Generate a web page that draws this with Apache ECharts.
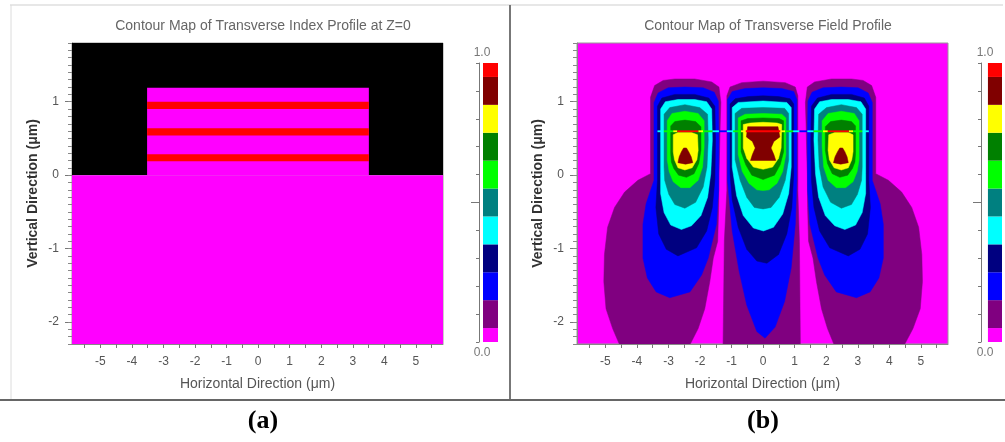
<!DOCTYPE html>
<html><head><meta charset="utf-8">
<script src="https://cdn.jsdelivr.net/npm/echarts@6/dist/echarts.min.js"></script>
<style>html,body{margin:0;padding:0;background:#fff}#c{width:1005px;height:442px}</style>
</head><body><div id="c"></div>
<script>
// ---------------- data ----------------
const panelTitles = ['Contour Map of Transverse Index Profile at Z=0', 'Contour Map of Transverse Field Profile'];
const panelLetters = ['(a)', '(b)'];
const xAxisName = 'Horizontal Direction (\u03bcm)';
const yAxisName = 'Vertical Direction (\u03bcm)';
const xRange = [-5.9, 5.86];
const yRange = [-2.3, 1.8];
const xLabelValues = [-5, -4, -3, -2, -1, 0, 1, 2, 3, 4, 5];
const yLabelValues = [-2, -1, 0, 1];
const colorbarLabels = ['1.0', '0.0'];
const colorbarTickValues = [0, 0.1, 0.2, 0.3, 0.4, 0.5, 0.6, 0.7, 0.8, 0.9, 1.0];

// colour bands of the scale (value edges, bottom to top)
const bandEdges = [0, 0.05, 0.15, 0.25, 0.35, 0.45, 0.55, 0.65, 0.75, 0.85, 0.95, 1.0];

// (a) index profile regions: [x0, x1, y0, y1, normalised index]; -1 = air (off scale)
const indexRegions = [
  [-5.9, 5.86, 0, 1.8, -1],
  [-5.9, 5.86, -2.3, 0, 0],
  [-3.52, 3.51, 0, 1.19, 0],
  [-3.52, 3.51, 0.90, 1.00, 1],
  [-3.52, 3.51, 0.54, 0.64, 1],
  [-3.52, 3.51, 0.19, 0.285, 1]
];

// (b) field contour levels and the filled contour outlines (um), one list per lobe
const contourLevels = [0.1, 0.2, 0.3, 0.4, 0.5, 0.6, 0.7, 0.8, 0.9];
const leftLobeContours = [
  [[-3.57,0.02],[-3.57,1.06],[-3.44,1.22],[-3.17,1.29],[-2.80,1.31],[-2.17,1.31],[-1.63,1.27],[-1.40,1.20],[-1.34,0.99],[-1.36,0.71],[-1.38,0.34],[-1.40,0.02],[-1.41,-0.44],[-1.44,-0.90],[-1.58,-1.13],[-1.69,-1.45],[-1.85,-1.82],[-2.06,-2.09],[-2.32,-2.31],[-4.55,-2.31],[-4.77,-2.09],[-4.98,-1.82],[-5.05,-1.45],[-5.03,-1.08],[-4.93,-0.71],[-4.71,-0.44],[-4.39,-0.23],[-3.97,-0.07]],
  [[-3.46,-0.07],[-3.46,0.99],[-3.33,1.12],[-3.01,1.19],[-2.48,1.20],[-1.90,1.19],[-1.55,1.13],[-1.42,1.01],[-1.40,0.48],[-1.41,-0.21],[-1.48,-0.67],[-1.74,-1.13],[-1.95,-1.36],[-2.32,-1.59],[-2.96,-1.67],[-3.39,-1.59],[-3.67,-1.40],[-3.81,-1.13],[-3.81,-0.67],[-3.71,-0.39],[-3.57,-0.21]],
  [[-3.35,-0.07],[-3.35,0.94],[-3.21,1.05],[-2.80,1.10],[-2.17,1.10],[-1.72,1.05],[-1.53,0.94],[-1.51,0.48],[-1.53,-0.07],[-1.61,-0.44],[-1.79,-0.76],[-2.11,-0.99],[-2.70,-1.10],[-3.07,-1.01],[-3.31,-0.80],[-3.40,-0.44]],
  [[-3.25,0.02],[-3.25,0.90],[-3.10,1.00],[-2.70,1.03],[-2.17,1.03],[-1.79,1.00],[-1.63,0.90],[-1.61,0.48],[-1.66,0.02],[-1.76,-0.30],[-1.97,-0.55],[-2.27,-0.69],[-2.59,-0.74],[-2.93,-0.68],[-3.14,-0.51],[-3.25,-0.25]],
  [[-3.14,0.11],[-3.14,0.83],[-2.96,0.92],[-2.48,0.96],[-2.01,0.92],[-1.76,0.83],[-1.74,0.48],[-1.78,0.11],[-1.90,-0.16],[-2.14,-0.37],[-2.48,-0.45],[-2.80,-0.40],[-2.99,-0.26],[-3.12,-0.07]],
  [[-3.04,0.21],[-3.04,0.74],[-2.89,0.84],[-2.48,0.87],[-2.06,0.84],[-1.87,0.74],[-1.87,0.39],[-1.92,0.11],[-2.06,-0.07],[-2.32,-0.17],[-2.61,-0.17],[-2.85,-0.09],[-2.98,0.05]],
  [[-2.93,0.30],[-2.93,0.67],[-2.80,0.73],[-2.48,0.75],[-2.14,0.73],[-1.97,0.66],[-1.97,0.34],[-2.04,0.16],[-2.19,0.02],[-2.43,-0.03],[-2.68,0.00],[-2.83,0.09],[-2.91,0.18]],
  [[-2.85,0.32],[-2.85,0.55],[-2.70,0.58],[-2.27,0.58],[-2.08,0.55],[-2.06,0.34],[-2.10,0.21],[-2.25,0.10],[-2.48,0.07],[-2.70,0.10],[-2.81,0.21]],
  [[-2.70,0.17],[-2.66,0.25],[-2.59,0.32],[-2.52,0.37],[-2.43,0.37],[-2.36,0.32],[-2.28,0.25],[-2.23,0.17],[-2.46,0.15]]
];
const centerLobeContours = [
  [[-1.15,-0.21],[-1.15,1.08],[-1.05,1.20],[-0.68,1.26],[0,1.28],[0.70,1.26],[1.02,1.20],[1.10,1.08],[1.10,-0.21],[1.15,-0.90],[1.18,-2.31],[-1.27,-2.31],[-1.23,-0.90]],
  [[-1.13,-0.07],[-1.13,1.03],[-0.98,1.14],[-0.57,1.18],[0,1.19],[0.59,1.18],[0.97,1.14],[1.07,1.03],[1.07,-0.07],[1.02,-0.67],[0.89,-1.26],[0.68,-1.72],[0.38,-2.07],[0.06,-2.22],[-0.20,-2.13],[-0.52,-1.77],[-0.76,-1.31],[-0.98,-0.76]],
  [[-1.05,0.02],[-1.05,0.97],[-0.89,1.04],[-0.47,1.07],[0,1.08],[0.49,1.07],[0.86,1.04],[0.97,0.97],[0.97,0.02],[0.91,-0.44],[0.75,-0.80],[0.49,-1.08],[0.12,-1.20],[-0.20,-1.17],[-0.52,-1.01],[-0.79,-0.71],[-0.98,-0.34]],
  [[-0.98,0.11],[-0.98,0.92],[-0.79,0.99],[0,1.01],[0.75,0.99],[0.89,0.92],[0.89,0.11],[0.81,-0.25],[0.62,-0.53],[0.33,-0.71],[0.01,-0.76],[-0.31,-0.72],[-0.63,-0.55],[-0.84,-0.28]],
  [[-0.89,0.21],[-0.89,0.84],[-0.68,0.91],[0,0.92],[0.68,0.91],[0.81,0.84],[0.81,0.21],[0.70,-0.07],[0.51,-0.30],[0.25,-0.44],[0,-0.46],[-0.28,-0.44],[-0.52,-0.30],[-0.73,-0.07]],
  [[-0.79,0.28],[-0.79,0.78],[-0.57,0.83],[0,0.84],[0.59,0.83],[0.72,0.78],[0.72,0.28],[0.62,0.05],[0.44,-0.11],[0.19,-0.20],[0,-0.21],[-0.20,-0.20],[-0.45,-0.11],[-0.66,0.05]],
  [[-0.70,0.32],[-0.70,0.74],[-0.49,0.77],[0,0.78],[0.51,0.77],[0.65,0.74],[0.65,0.32],[0.54,0.14],[0.36,0.00],[0,-0.06],[-0.36,0.00],[-0.55,0.14]],
  [[-0.63,0.37],[-0.63,0.69],[-0.41,0.71],[0,0.72],[0.44,0.71],[0.59,0.69],[0.57,0.37],[0.49,0.23],[0.30,0.11],[0,0.08],[-0.31,0.11],[-0.52,0.23]],
  [[-0.49,0.66],[0.47,0.66],[0.53,0.52],[0.34,0.46],[0.25,0.37],[0.34,0.28],[0.40,0.20],[-0.40,0.20],[-0.34,0.28],[-0.25,0.37],[-0.34,0.46],[-0.53,0.52]]
];
const rightLobeContours = [
  [[3.57,0.02],[3.57,1.06],[3.44,1.22],[3.17,1.29],[2.80,1.31],[2.17,1.31],[1.63,1.27],[1.40,1.20],[1.34,0.99],[1.36,0.71],[1.38,0.34],[1.40,0.02],[1.41,-0.44],[1.44,-0.90],[1.58,-1.13],[1.69,-1.45],[1.85,-1.82],[2.04,-2.09],[2.25,-2.31],[4.48,-2.31],[4.75,-2.09],[4.98,-1.82],[5.05,-1.45],[5.03,-1.08],[4.93,-0.71],[4.71,-0.44],[4.39,-0.23],[3.97,-0.07]],
  [[3.46,-0.07],[3.46,0.99],[3.33,1.12],[3.01,1.19],[2.48,1.20],[1.90,1.19],[1.55,1.13],[1.42,1.01],[1.40,0.48],[1.41,-0.21],[1.48,-0.67],[1.74,-1.13],[1.95,-1.36],[2.32,-1.59],[2.96,-1.67],[3.39,-1.59],[3.67,-1.40],[3.81,-1.13],[3.81,-0.67],[3.71,-0.39],[3.57,-0.21]],
  [[3.35,-0.07],[3.35,0.94],[3.21,1.05],[2.80,1.10],[2.17,1.10],[1.72,1.05],[1.53,0.94],[1.51,0.48],[1.53,-0.07],[1.61,-0.44],[1.79,-0.76],[2.11,-0.99],[2.70,-1.10],[3.07,-1.01],[3.31,-0.80],[3.40,-0.44]],
  [[3.25,0.02],[3.25,0.90],[3.10,1.00],[2.70,1.03],[2.17,1.03],[1.79,1.00],[1.63,0.90],[1.61,0.48],[1.66,0.02],[1.76,-0.30],[1.97,-0.55],[2.27,-0.69],[2.59,-0.74],[2.93,-0.68],[3.14,-0.51],[3.25,-0.25]],
  [[3.14,0.11],[3.14,0.83],[2.96,0.92],[2.48,0.96],[2.01,0.92],[1.76,0.83],[1.74,0.48],[1.78,0.11],[1.90,-0.16],[2.14,-0.37],[2.48,-0.45],[2.80,-0.40],[2.99,-0.26],[3.12,-0.07]],
  [[3.04,0.21],[3.04,0.74],[2.89,0.84],[2.48,0.87],[2.06,0.84],[1.87,0.74],[1.87,0.39],[1.92,0.11],[2.06,-0.07],[2.32,-0.17],[2.61,-0.17],[2.85,-0.09],[2.98,0.05]],
  [[2.93,0.30],[2.93,0.67],[2.80,0.73],[2.48,0.75],[2.14,0.73],[1.97,0.66],[1.97,0.34],[2.04,0.16],[2.19,0.02],[2.43,-0.03],[2.68,0.00],[2.83,0.09],[2.91,0.18]],
  [[2.85,0.32],[2.85,0.55],[2.70,0.58],[2.27,0.58],[2.08,0.55],[2.06,0.34],[2.10,0.21],[2.25,0.10],[2.48,0.07],[2.70,0.10],[2.81,0.21]],
  [[2.70,0.17],[2.66,0.25],[2.59,0.32],[2.52,0.37],[2.43,0.37],[2.36,0.32],[2.28,0.25],[2.23,0.17],[2.46,0.15]]
];
// thin high-index layer line crossing the field map: [x0, x1, field level]
const interfaceY = [0.585, 0.61];
const interfaceSegments = [
  [-3.35,-3.15,0.4],[-3.15,-2.85,0.6],[-2.85,-2.72,0.8],[-2.72,-2.05,1.0],[-2.05,-1.90,0.8],[-1.90,-1.60,0.6],[-1.60,-1.40,0.4],[-1.40,-1.15,0.2],
  [-1.15,-0.95,0.4],[-0.95,-0.70,0.6],[-0.70,-0.55,0.8],[-0.55,0.55,1.0],[0.55,0.70,0.8],[0.70,0.95,0.6],[0.95,1.15,0.4],
  [1.15,1.40,0.2],[1.40,1.60,0.4],[1.60,1.90,0.6],[1.90,2.05,0.8],[2.05,2.72,1.0],[2.72,2.85,0.8],[2.85,3.15,0.6],[3.15,3.35,0.4]
];

// ---------------- styles ----------------
const bandColors = ['#FF00FF','#800080','#0000FF','#000080','#00FFFF','#008080','#00FF00','#008000','#FFFF00','#800000','#FF0000'];
const offScaleColor = '#000000';
function colorFor(v) {
  if (v < 0) return offScaleColor;
  for (let i = 0; i < bandColors.length; i++) {
    if (v >= bandEdges[i] && v <= bandEdges[i + 1]) return bandColors[i];
  }
  return bandColors[bandColors.length - 1];
}
const FONT = 'Liberation Sans, Arial, sans-serif';
const xTickValues = []; for (let k = -11; k <= 11; k++) xTickValues.push(k / 2);
const yMinorTicks = []; for (let k = -23; k <= 18; k++) yMinorTicks.push(k / 10);

const contourItems = [];
[leftLobeContours, centerLobeContours, rightLobeContours].forEach(lobe =>
  lobe.forEach((pts, k) => contourItems.push({ level: contourLevels[k], pts })));

function mainX(grid) {
  return {
    gridIndex: grid, type: 'value', min: xRange[0], max: xRange[1],
    name: xAxisName, nameLocation: 'middle', nameGap: 33,
    nameTextStyle: { fontFamily: FONT, fontSize: 14, color: '#555' },
    axisLine: { onZero: false, lineStyle: { color: '#888' } },
    axisTick: { customValues: xTickValues, length: 4, lineStyle: { color: '#777' } },
    axisLabel: { customValues: xLabelValues, margin: 12, fontFamily: FONT, fontSize: 12, color: '#555' },
    splitLine: { show: false }
  };
}
function mainY(grid) {
  return {
    gridIndex: grid, type: 'value', min: yRange[0], max: yRange[1], position: 'left',
    name: yAxisName, nameLocation: 'middle', nameGap: 32, nameRotate: 90,
    nameTextStyle: { fontFamily: FONT, fontSize: 14, fontWeight: 'bold', color: '#333' },
    axisLine: { onZero: false, lineStyle: { color: '#888' } },
    axisTick: { customValues: yLabelValues, length: 7, lineStyle: { color: '#777' } },
    axisLabel: { customValues: yLabelValues, margin: 13, fontFamily: FONT, fontSize: 12, color: '#555' },
    splitLine: { show: false }
  };
}
function minorY(grid) {
  return {
    gridIndex: grid, type: 'value', min: yRange[0], max: yRange[1], position: 'left',
    axisLine: { show: false, onZero: false },
    axisTick: { customValues: yMinorTicks, length: 4, lineStyle: { color: '#888' } },
    axisLabel: { show: false }, splitLine: { show: false }
  };
}
function cbarX(grid) { return { gridIndex: grid, type: 'value', min: 0, max: 1, show: false }; }
function cbarY(grid) {
  return {
    gridIndex: grid, type: 'value', min: 0, max: 1, position: 'left',
    axisLine: { show: true, onZero: false, lineStyle: { color: '#777' } },
    axisTick: { customValues: colorbarTickValues, length: 3, lineStyle: { color: '#777' } },
    axisLabel: { show: false }, splitLine: { show: false }
  };
}
function cbarYLong(grid) {
  return {
    gridIndex: grid, type: 'value', min: 0, max: 1, position: 'left',
    axisLine: { show: false, onZero: false },
    axisTick: { customValues: [0.5], length: 8, lineStyle: { color: '#777' } },
    axisLabel: { show: false }, splitLine: { show: false }
  };
}
function colorbarSeries(xi, yi, barStart) {
  return {
    type: 'custom', coordinateSystem: 'cartesian2d', xAxisIndex: xi, yAxisIndex: yi, silent: true,
    data: bandColors.map((c, i) => [barStart, bandEdges[i], bandEdges[i + 1]]),
    renderItem(params, api) {
      const i = params.dataIndex;
      const p0 = api.coord([barStart, bandEdges[i + 1]]);
      const p1 = api.coord([1, bandEdges[i]]);
      return { type: 'rect', shape: { x: p0[0], y: p0[1], width: p1[0] - p0[0], height: p1[1] - p0[1] },
        style: { fill: bandColors[i] } };
    }
  };
}

const chart = echarts.init(document.getElementById('c'), null, { renderer: 'canvas' });
chart.setOption({
  animation: false,
  backgroundColor: '#ffffff',
  title: [
    { text: panelTitles[0], left: 258, top: 14, textAlign: 'center', textStyle: { fontFamily: FONT, fontSize: 14, fontWeight: 'normal', color: '#666' } },
    { text: panelTitles[1], left: 763, top: 14, textAlign: 'center', textStyle: { fontFamily: FONT, fontSize: 14, fontWeight: 'normal', color: '#666' } }
  ],
  grid: [
    { left: 72, top: 43, width: 371, height: 301, show: true, borderColor: '#999', borderWidth: 1, backgroundColor: 'transparent', containLabel: false },
    { left: 577, top: 43, width: 371, height: 301, show: true, borderColor: '#999', borderWidth: 1, backgroundColor: bandColors[0], containLabel: false },
    { left: 479, top: 63, width: 19, height: 279 },
    { left: 981, top: 63, width: 21, height: 279 }
  ],
  xAxis: [mainX(0), mainX(1), cbarX(2), cbarX(3)],
  yAxis: [mainY(0), minorY(0), mainY(1), minorY(1), cbarY(2), cbarYLong(2), cbarY(3), cbarYLong(3)],
  graphic: [
    { type: 'line', shape: { x1: 10, y1: 5, x2: 1003, y2: 5 }, style: { stroke: '#cfcfcf', lineWidth: 1 } },
    { type: 'line', shape: { x1: 11, y1: 5, x2: 11, y2: 400 }, style: { stroke: '#dcdcdc', lineWidth: 1 } },
    { type: 'line', shape: { x1: 510, y1: 5, x2: 510, y2: 400 }, style: { stroke: '#777', lineWidth: 2 } },
    { type: 'line', shape: { x1: 0, y1: 400, x2: 1005, y2: 400 }, style: { stroke: '#666', lineWidth: 2 } },
    { type: 'text', x: 482, y: 53, style: { text: colorbarLabels[0], fill: '#777', font: '12px ' + FONT, textAlign: 'center', textVerticalAlign: 'middle' } },
    { type: 'text', x: 482, y: 353, style: { text: colorbarLabels[1], fill: '#777', font: '12px ' + FONT, textAlign: 'center', textVerticalAlign: 'middle' } },
    { type: 'text', x: 985, y: 53, style: { text: colorbarLabels[0], fill: '#777', font: '12px ' + FONT, textAlign: 'center', textVerticalAlign: 'middle' } },
    { type: 'text', x: 985, y: 353, style: { text: colorbarLabels[1], fill: '#777', font: '12px ' + FONT, textAlign: 'center', textVerticalAlign: 'middle' } },
    { type: 'text', x: 263, y: 421, style: { text: panelLetters[0], fill: '#000', font: 'bold 26px Liberation Serif, serif', textAlign: 'center', textVerticalAlign: 'middle' } },
    { type: 'text', x: 763, y: 421, style: { text: panelLetters[1], fill: '#000', font: 'bold 26px Liberation Serif, serif', textAlign: 'center', textVerticalAlign: 'middle' } }
  ],
  series: [
    {
      type: 'custom', coordinateSystem: 'cartesian2d', xAxisIndex: 0, yAxisIndex: 0, silent: true, clip: true,
      data: indexRegions.map(r => [r[0], r[2], r[4]]),
      renderItem(params, api) {
        const r = indexRegions[params.dataIndex];
        const p0 = api.coord([r[0], r[3]]);
        const p1 = api.coord([r[1], r[2]]);
        return { type: 'rect', shape: { x: p0[0], y: p0[1], width: p1[0] - p0[0], height: p1[1] - p0[1] },
          style: { fill: colorFor(r[4]) } };
      }
    },
    {
      type: 'custom', coordinateSystem: 'cartesian2d', xAxisIndex: 1, yAxisIndex: 2, silent: true, clip: true,
      data: contourItems.map(c => [c.pts[0][0], c.pts[0][1], c.level]),
      renderItem(params, api) {
        const c = contourItems[params.dataIndex];
        const col = colorFor(c.level);
        return { type: 'polygon', shape: { points: c.pts.map(p => api.coord(p)) },
          style: { fill: col, stroke: col, lineWidth: 0.5 } };
      }
    },
    {
      type: 'custom', coordinateSystem: 'cartesian2d', xAxisIndex: 1, yAxisIndex: 2, silent: true, clip: true,
      data: interfaceSegments.map(s => [s[0], interfaceY[0], s[2]]),
      renderItem(params, api) {
        const s = interfaceSegments[params.dataIndex];
        const p0 = api.coord([s[0], interfaceY[1]]);
        const p1 = api.coord([s[1], interfaceY[0]]);
        return { type: 'rect', shape: { x: p0[0], y: p0[1], width: p1[0] - p0[0], height: Math.max(1.5, p1[1] - p0[1]) },
          style: { fill: colorFor(s[2]) } };
      }
    },
    colorbarSeries(2, 4, 0.21),
    colorbarSeries(3, 6, 0.33)
  ]
});
</script></body></html>
